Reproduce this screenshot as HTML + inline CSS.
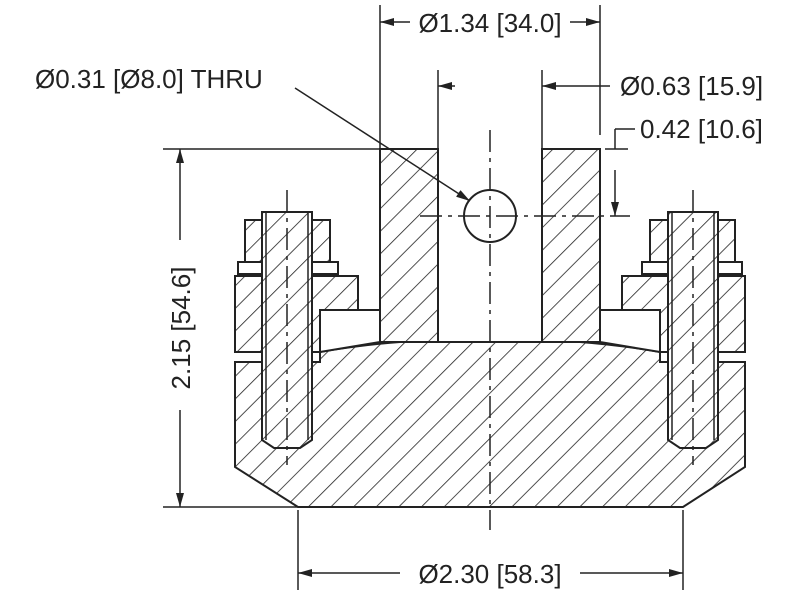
<!DOCTYPE html>
<html><head><style>body{margin:0;background:#fff}svg{display:block}text{font-family:"Liberation Sans",sans-serif;font-size:26px;fill:#222}</style></head>
<body>
<svg width="800" height="600" viewBox="0 0 800 600" xmlns="http://www.w3.org/2000/svg">
<defs>
<pattern id="h" patternUnits="userSpaceOnUse" width="16" height="16" patternTransform="rotate(45)">
<rect width="16" height="16" fill="#fff"/>
<line x1="0" y1="0" x2="0" y2="16" stroke="#222" stroke-width="1.6"/>
</pattern>
<marker id="a" markerWidth="14" markerHeight="8" refX="14" refY="4" orient="auto" markerUnits="userSpaceOnUse"><path d="M0,0 L14,4 L0,8z" fill="#222"/></marker>
</defs>
<g stroke="#222" stroke-width="2" fill="url(#h)">
<path d="M235,362 L320,362 L320,352 Q360,345 400,342 L580,342 Q620,345 660,352 L660,362 L745,362 L745,467 L683,507 L298,507 L235,467 Z"/>
<path d="M380,149 L438,149 L438,342 L380,342 Z"/>
<path d="M542,149 L600,149 L600,342 L542,342 Z"/>
<path d="M235,276 L358,276 L358,310 L320,310 L320,352 L235,352 Z"/>
<path d="M320,310 L380,310 L380,342 L320,352 Z" fill="#fff"/>
<path d="M238,262 L338,262 L338,274 L238,274 Z" fill="#fff"/>
<path d="M245,220 L330,220 L330,262 L245,262 Z"/>
<path d="M622,276 L745,276 L745,352 L660,352 L660,310 L622,310 Z"/>
<path d="M600,310 L660,310 L660,352 L600,342 Z" fill="#fff"/>
<path d="M642,262 L742,262 L742,274 L642,274 Z" fill="#fff"/>
<path d="M650,220 L735,220 L735,262 L650,262 Z"/>
<path d="M262,212 L312,212 L312,440 L300,448 L274,448 L262,440 Z"/>
<path d="M668,212 L718,212 L718,440 L706,448 L680,448 L668,440 Z"/>
</g>
<g stroke="#222" stroke-width="1.5" fill="none">
<line x1="266" y1="212" x2="266" y2="440"/><line x1="308" y1="212" x2="308" y2="440"/>
<line x1="672" y1="212" x2="672" y2="440"/><line x1="714" y1="212" x2="714" y2="440"/>
<circle cx="490" cy="216" r="26" fill="#fff" stroke-width="2"/>
<g stroke-dasharray="22,6,4,6">
<line x1="490" y1="130" x2="490" y2="530"/>
<line x1="287" y1="190" x2="287" y2="465"/>
<line x1="693" y1="190" x2="693" y2="465"/>
<line x1="420" y1="216" x2="630" y2="216"/>
</g>
<line x1="380" y1="5" x2="380" y2="149"/><line x1="600" y1="5" x2="600" y2="135"/>
<line x1="410" y1="22" x2="380" y2="22" marker-end="url(#a)"/>
<line x1="570" y1="22" x2="600" y2="22" marker-end="url(#a)"/>
<line x1="438" y1="70" x2="438" y2="149"/><line x1="542" y1="70" x2="542" y2="149"/>
<line x1="455" y1="86" x2="438" y2="86" marker-end="url(#a)"/>
<line x1="610" y1="86" x2="542" y2="86" marker-end="url(#a)"/>
<line x1="163" y1="149" x2="380" y2="149"/>
<line x1="163" y1="507" x2="298" y2="507"/>
<line x1="180" y1="240" x2="180" y2="149" marker-end="url(#a)"/>
<line x1="180" y1="410" x2="180" y2="507" marker-end="url(#a)"/>
<line x1="298" y1="510" x2="298" y2="590"/><line x1="683" y1="510" x2="683" y2="590"/>
<line x1="400" y1="573" x2="298" y2="573" marker-end="url(#a)"/>
<line x1="580" y1="573" x2="683" y2="573" marker-end="url(#a)"/>
<line x1="605" y1="149" x2="628" y2="149"/>
<line x1="615" y1="129" x2="635" y2="129"/>
<line x1="615" y1="170" x2="615" y2="216" marker-end="url(#a)"/>
<line x1="615" y1="129" x2="615" y2="149"/>
<line x1="295" y1="88" x2="470" y2="201" marker-end="url(#a)"/>
</g>
<text x="490" y="32" text-anchor="middle">Ø1.34 [34.0]</text>
<text x="620" y="95">Ø0.63 [15.9]</text>
<text x="35" y="88">Ø0.31 [Ø8.0] THRU</text>
<text x="640" y="138">0.42 [10.6]</text>
<text x="490" y="583" text-anchor="middle">Ø2.30 [58.3]</text>
<text transform="translate(190,328) rotate(-90)" text-anchor="middle">2.15 [54.6]</text>
</svg>
</body></html>
